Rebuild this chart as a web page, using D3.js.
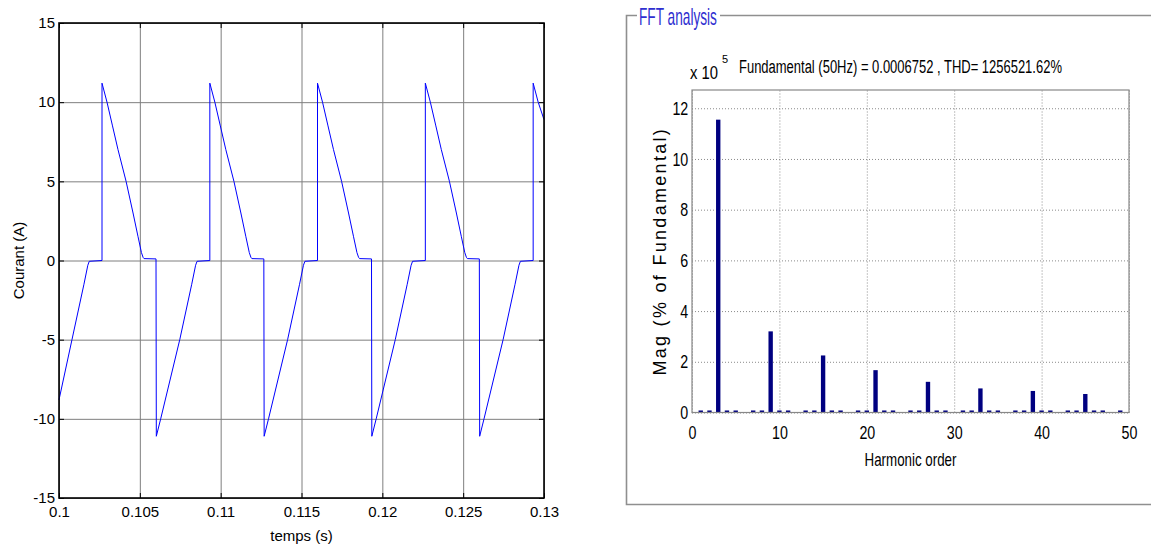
<!DOCTYPE html>
<html>
<head>
<meta charset="utf-8">
<script src="https://cdn.jsdelivr.net/npm/d3@7"></script>
<style>
  body { margin: 0; background: #fff; }
  svg { display: block; font-family: "Liberation Sans", Arial, sans-serif; }
</style>
</head>
<body>
<svg id="chart" width="1151" height="547"></svg>
<script>
// ---- data ----
// left: current waveform, time in s / current in A
var timeS = [
  0.1, 0.100803, 0.101543, 0.101783, 0.101873, 0.10266,
  0.10266, 0.10297, 0.10331, 0.10365, 0.10415, 0.10458, 0.10489, 0.1051, 0.1052, 0.10526, 0.106, 0.10602, 0.10629, 0.10747, 0.10821, 0.10845, 0.10854,
  0.10933, 0.10933, 0.10964, 0.10998, 0.11032, 0.11082, 0.11125, 0.11156, 0.11177, 0.11187, 0.11193, 0.11267, 0.11269, 0.11296, 0.11414, 0.11488, 0.11512, 0.11521,
  0.11599, 0.11599, 0.1163, 0.11664, 0.11698, 0.11748, 0.11791, 0.11822, 0.11843, 0.11853, 0.11859, 0.11933, 0.11935, 0.11962, 0.1208, 0.12154, 0.12178, 0.12187,
  0.12266, 0.12266, 0.12297, 0.12331, 0.12365, 0.12415, 0.12458, 0.12489, 0.1251, 0.1252, 0.12526, 0.126, 0.12602, 0.12629, 0.12747, 0.12821, 0.12845, 0.12854,
  0.12933, 0.12933, 0.12964, 0.13
];
var currentA = [
  -8.8, -5, -1.5, -0.3, -0.05, 0,
  11.2, 10, 8.5, 7, 5, 3, 1.5, 0.5, 0.2, 0.12, 0.1, -11.1, -10, -5, -1.5, -0.3, -0.05,
  0, 11.2, 10, 8.5, 7, 5, 3, 1.5, 0.5, 0.2, 0.12, 0.1, -11.1, -10, -5, -1.5, -0.3, -0.05,
  0, 11.2, 10, 8.5, 7, 5, 3, 1.5, 0.5, 0.2, 0.12, 0.1, -11.1, -10, -5, -1.5, -0.3, -0.05,
  0, 11.2, 10, 8.5, 7, 5, 3, 1.5, 0.5, 0.2, 0.12, 0.1, -11.1, -10, -5, -1.5, -0.3, -0.05,
  0, 11.2, 10, 8.9
];
var timeTicks = [0.1, 0.105, 0.11, 0.115, 0.12, 0.125, 0.13];
var timeTickLabels = ["0.1", "0.105", "0.11", "0.115", "0.12", "0.125", "0.13"];
var currentTicks = [-15, -10, -5, 0, 5, 10, 15];

// right: FFT spectrum, magnitude in % of fundamental (x 10^5)
var harmonicOrder = [1, 2, 3, 4, 5, 6, 7, 8, 9, 10, 11, 12, 13, 14, 15, 16, 17, 18, 19, 20, 21, 22, 23, 24, 25,
  26, 27, 28, 29, 30, 31, 32, 33, 34, 35, 36, 37, 38, 39, 40, 41, 42, 43, 44, 45, 46, 47, 48, 49];
var magPct = [0.08, 0.08, 11.55, 0.08, 0.08, 0, 0.08, 0.08, 3.2, 0.08, 0.08, 0,
  0.08, 0.08, 2.25, 0.08, 0.08, 0, 0.08, 0.08, 1.67, 0.08, 0.08, 0,
  0.08, 0.08, 1.21, 0.08, 0.08, 0, 0.08, 0.08, 0.95, 0.08, 0.08, 0,
  0.08, 0.08, 0.85, 0.08, 0.08, 0, 0.08, 0.08, 0.73, 0.08, 0.08, 0, 0.08];
var orderTicks = [0, 10, 20, 30, 40, 50];
var magTicks = [0, 2, 4, 6, 8, 10, 12];

var svg = d3.select("#chart");
var plain = (d) => String(d); // hyphen minus, like the original

// squeeze a text horizontally to a given width (the FFT panel uses a narrow font)
function squeeze(sel, x, y, w) {
  var n = sel.node().getComputedTextLength();
  sel.attr("transform", `translate(${x},${y}) scale(${w / n},1)`);
}

// ================= LEFT CHART =================
var L = { x0: 59, x1: 544, y0: 23, y1: 498 };
var plotH = L.y1 - L.y0;
var plotW = L.x1 - L.x0;

var xScale = d3.scaleLinear().domain([0.1, 0.13]).range([L.x0, L.x1]);
var yScale = d3.scaleLinear().domain([-15, 15]).range([L.y1, L.y0]);

// grid (solid grey)
svg.append("g")
  .attr("transform", `translate(0,${L.y1})`)
  .call(d3.axisBottom(xScale).tickValues(timeTicks).tickSize(-plotH).tickFormat(""))
  .call((g) => g.select(".domain").remove())
  .selectAll("line").attr("stroke", "#7f7f7f");
svg.append("g")
  .attr("transform", `translate(${L.x0},0)`)
  .call(d3.axisLeft(yScale).tickValues(currentTicks).tickSize(-plotW).tickFormat(""))
  .call((g) => g.select(".domain").remove())
  .selectAll("line").attr("stroke", "#7f7f7f");

// waveform
var line = d3.line()
  .x((d, i) => xScale(timeS[i]))
  .y((d) => yScale(d));
svg.append("path")
  .datum(currentA)
  .attr("d", line)
  .attr("fill", "none")
  .attr("stroke", "#0000ff")
  .attr("stroke-width", 1);

// inward ticks on every side
function tickOnly(g) {
  g.select(".domain").remove();
  g.selectAll("line").attr("stroke", "#000");
}
svg.append("g").attr("transform", `translate(0,${L.y1})`)
  .call(d3.axisBottom(xScale).tickValues(timeTicks).tickSize(-5).tickFormat("")).call(tickOnly);
svg.append("g").attr("transform", `translate(0,${L.y0})`)
  .call(d3.axisTop(xScale).tickValues(timeTicks).tickSize(-5).tickFormat("")).call(tickOnly);
svg.append("g").attr("transform", `translate(${L.x0},0)`)
  .call(d3.axisLeft(yScale).tickValues(currentTicks).tickSize(-5).tickFormat("")).call(tickOnly);
svg.append("g").attr("transform", `translate(${L.x1},0)`)
  .call(d3.axisRight(yScale).tickValues(currentTicks).tickSize(-5).tickFormat("")).call(tickOnly);

// frame
svg.append("rect")
  .attr("x", L.x0).attr("y", L.y0)
  .attr("width", plotW).attr("height", plotH)
  .attr("fill", "none").attr("stroke", "#000").attr("stroke-width", 1.6);

// tick labels
svg.append("g").attr("transform", `translate(0,${L.y1})`)
  .call(d3.axisBottom(xScale).tickValues(timeTicks).tickSize(0).tickPadding(8)
    .tickFormat((d, i) => timeTickLabels[i]))
  .call((g) => g.select(".domain").remove())
  .selectAll("text").attr("font-size", 15).attr("font-family", "Liberation Sans, Arial, sans-serif").attr("fill", "#000");
svg.append("g").attr("transform", `translate(${L.x0},0)`)
  .call(d3.axisLeft(yScale).tickValues(currentTicks).tickSize(0).tickPadding(4).tickFormat(plain))
  .call((g) => g.select(".domain").remove())
  .selectAll("text").attr("font-size", 15).attr("font-family", "Liberation Sans, Arial, sans-serif").attr("fill", "#000");

// axis titles
svg.append("text")
  .attr("x", (L.x0 + L.x1) / 2)
  .attr("y", 541)
  .attr("text-anchor", "middle")
  .attr("font-size", 15)
  .text("temps (s)");
svg.append("text")
  .attr("transform", `translate(24,${(L.y0 + L.y1) / 2}) rotate(-90)`)
  .attr("text-anchor", "middle")
  .attr("font-size", 15)
  .text("Courant (A)");

// ================= RIGHT PANEL (FFT) =================
var frameColor = "#8f8f8f";
svg.append("path")
  .attr("d", "M637,15.5 H626.5 V504.5 H1151 M720,15.5 H1151")
  .attr("fill", "none").attr("stroke", frameColor).attr("stroke-width", 1.6);

svg.append("text")
  .attr("font-size", 23)
  .attr("fill", "#2f2fd0")
  .text("FFT analysis")
  .call(squeeze, 639, 25, 78);

// header
svg.append("text")
  .attr("font-size", 18)
  .text("x 10")
  .call(squeeze, 690, 79, 28);
svg.append("text")
  .attr("x", 722).attr("y", 63)
  .attr("font-size", 11)
  .text("5");
svg.append("text")
  .attr("font-size", 18)
  .text("Fundamental (50Hz) = 0.0006752 , THD= 1256521.62%")
  .call(squeeze, 739, 73, 323);

var R = { x0: 692, x1: 1129, y0: 90, y1: 412.5 };
var hx = d3.scaleLinear().domain([0, 50]).range([R.x0, R.x1]);
var hy = d3.scaleLinear().domain([0, 12.72]).range([R.y1, R.y0]);

// dotted grid
svg.append("g").attr("transform", `translate(0,${R.y1})`)
  .call(d3.axisBottom(hx).tickValues(orderTicks).tickSize(-(R.y1 - R.y0)).tickFormat(""))
  .call((g) => g.select(".domain").remove())
  .selectAll("line").attr("stroke", "#8a8a8a").attr("stroke-dasharray", "1,2");
svg.append("g").attr("transform", `translate(${R.x0},0)`)
  .call(d3.axisLeft(hy).tickValues(magTicks).tickSize(-(R.x1 - R.x0)).tickFormat(""))
  .call((g) => g.select(".domain").remove())
  .selectAll("line").attr("stroke", "#8a8a8a").attr("stroke-dasharray", "1,2");

// bars
var barW = hx(0.5) - hx(0);
svg.append("g")
  .selectAll("rect")
  .data(magPct)
  .enter()
  .append("rect")
  .attr("x", (d, i) => hx(harmonicOrder[i]) - barW / 2)
  .attr("y", (d) => hy(d))
  .attr("width", barW)
  .attr("height", (d) => hy(0) - hy(d))
  .attr("fill", "#000080");

// axes box
svg.append("rect")
  .attr("x", R.x0).attr("y", R.y0)
  .attr("width", R.x1 - R.x0).attr("height", R.y1 - R.y0)
  .attr("fill", "none").attr("stroke", "#888").attr("stroke-width", 1.2);

// tick labels (narrow look)
svg.append("g").attr("transform", `translate(0,${R.y1})`)
  .call(d3.axisBottom(hx).tickValues(orderTicks).tickSize(0).tickPadding(13))
  .call((g) => g.select(".domain").remove())
  .selectAll("text")
  .attr("font-size", 19).attr("font-family", "Liberation Sans, Arial, sans-serif").attr("fill", "#000")
  .attr("transform", "scale(0.75,1)");
svg.append("g").attr("transform", `translate(${R.x0},0)`)
  .call(d3.axisLeft(hy).tickValues(magTicks).tickSize(0).tickPadding(5))
  .call((g) => g.select(".domain").remove())
  .selectAll("text")
  .attr("font-size", 19).attr("font-family", "Liberation Sans, Arial, sans-serif").attr("fill", "#000")
  .attr("transform", "scale(0.75,1)");

svg.append("text")
  .attr("text-anchor", "middle")
  .attr("font-size", 18)
  .text("Harmonic order")
  .call(squeeze, (R.x0 + R.x1) / 2, 466, 92);
svg.append("text")
  .attr("transform", `translate(666,${(R.y0 + R.y1) / 2}) rotate(-90)`)
  .attr("text-anchor", "middle")
  .attr("font-size", 18)
  .attr("letter-spacing", 2.3)
  .text("Mag (% of Fundamental)");
</script>
</body>
</html>
